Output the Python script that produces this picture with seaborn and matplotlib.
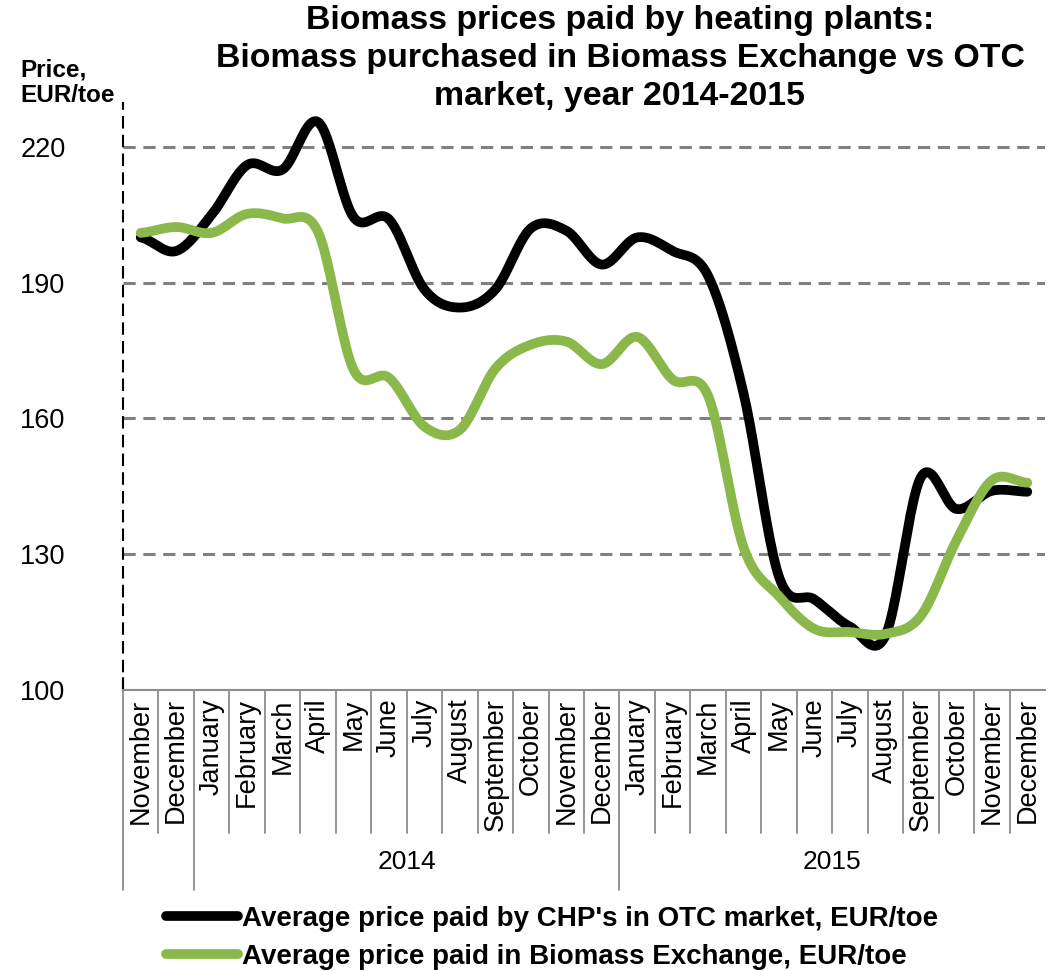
import numpy as np
import pandas as pd
import matplotlib
matplotlib.use("Agg")
import matplotlib.pyplot as plt
import seaborn as sns

# data
months = ["November", "December",
          "January", "February", "March", "April", "May", "June", "July",
          "August", "September", "October", "November", "December",
          "January", "February", "March", "April", "May", "June", "July",
          "August", "September", "October", "November", "December"]
years = ["", "2014", "2015"]
year_spans = [(0, 2), (2, 14), (14, 26)]

otc_price = [200, 197, 205, 216, 215, 225.5, 204.5, 204, 188.5, 184.5, 188.5, 202, 201.5, 194,
             200, 197, 191.5, 165.5, 125, 120, 114, 112, 147, 140, 144, 143.8]
exchange_price = [201, 202.3, 201, 205.2, 204.2, 201.2, 170.8, 169, 158.2, 157.5, 171, 176.3, 177, 172,
                  178, 168.6, 165, 131.5, 120.7, 113.5, 112.8, 112.4, 116.4, 133, 146.3, 145.8]

otc_label = "Average price paid by CHP's in OTC market, EUR/toe"
exchange_label = "Average price paid in Biomass Exchange, EUR/toe"

black = "#000000"
green = "#8BB84B"


# Excel style smoothing (catmull-rom) just for drawing the curve
def smooth(ys, n=24):
    ys = np.asarray(ys, dtype=float)
    p = np.concatenate([[ys[0]], ys, [ys[-1]]])
    xs_out, ys_out = [], []
    for i in range(len(ys) - 1):
        p0, p1, p2, p3 = p[i], p[i + 1], p[i + 2], p[i + 3]
        t = np.linspace(0, 1, n, endpoint=False)
        y = 0.5 * ((2 * p1) + (-p0 + p2) * t + (2 * p0 - 5 * p1 + 4 * p2 - p3) * t ** 2
                   + (-p0 + 3 * p1 - 3 * p2 + p3) * t ** 3)
        xs_out.append(i + t)
        ys_out.append(y)
    xs_out.append([len(ys) - 1])
    ys_out.append([ys[-1]])
    return np.concatenate(xs_out), np.concatenate(ys_out)


sns.set_theme(style="white")
plt.rcParams["font.family"] = ["Liberation Sans", "DejaVu Sans"]
plt.rcParams["text.color"] = "black"
plt.rcParams["xtick.color"] = "black"
plt.rcParams["ytick.color"] = "black"

W, H = 1053, 971
fig = plt.figure(figsize=(W / 100, H / 100), dpi=100)
ax = fig.add_axes([123 / W, 1 - 690 / H, (1045 - 123) / W, (690 - 103) / H])

x1, y1 = smooth(otc_price)
x2, y2 = smooth(exchange_price)
df = pd.DataFrame({"x": np.concatenate([x1, x2]),
                   "y": np.concatenate([y1, y2]),
                   "series": [otc_label] * len(x1) + [exchange_label] * len(x2)})
sns.lineplot(data=df, x="x", y="y", hue="series", palette=[black, green], sort=False,
             linewidth=7, ax=ax, legend=False, zorder=3)
for ln in ax.get_lines():
    ln.set_solid_capstyle("round")
    ln.set_solid_joinstyle("round")

ax.set_xlim(-0.5, len(months) - 0.5)
ax.set_ylim(100, 229.7)
ax.set_yticks([100, 130, 160, 190, 220])
ax.set_yticklabels(["100", "130", "160", "190", "220"], fontsize=19.5, ha="left")
ax.tick_params(axis="y", length=0, pad=74)
ax.set_xticks(range(len(months)))
ax.set_xticklabels(months, rotation=90, fontsize=19.5, va="top", ha="center")
ax.tick_params(axis="x", length=0, pad=6)
ax.set_xlabel("")
ax.set_ylabel("")

for v in [130, 160, 190, 220]:
    ax.axhline(v, color="#808080", lw=2.2, ls=(0, (4, 2.5)), zorder=1)

for s in ["top", "right"]:
    ax.spines[s].set_visible(False)
ax.spines["left"].set_color(black)
ax.spines["left"].set_linewidth(1.5)
ax.spines["left"].set_linestyle((0, (5, 4)))
ax.spines["bottom"].set_color("#8c8c8c")
ax.spines["bottom"].set_linewidth(1.5)

# category separators
tr = ax.get_xaxis_transform()
y_lvl1 = -(833 - 690) / (690 - 103)
y_lvl2 = -(890 - 690) / (690 - 103)
year_edges = [a for a, b in year_spans]
for k in range(len(months)):
    xb = k - 0.5
    ybot = y_lvl2 if k in year_edges else y_lvl1
    ax.plot([xb, xb], [0, ybot], transform=tr, color="#8c8c8c", lw=1.3, clip_on=False)
ax.plot([-0.5, -0.5], [0, 0.02], transform=tr, color=black, lw=1.5, clip_on=False)
for name, (a, b) in zip(years, year_spans):
    if name:
        ax.text((a + b - 1) / 2, -(862 - 690) / (690 - 103), name, transform=tr,
                ha="center", va="center", fontsize=19)

fig.text(620 / W, 1 - 5 / H,
         "Biomass prices paid by heating plants:\nBiomass purchased in Biomass Exchange vs OTC\nmarket, year 2014-2015",
         ha="center", va="top", fontsize=24.4, fontweight="bold", linespacing=1.3)
fig.text(20 / W, 1 - 59 / H, "Price,\nEUR/toe", ha="left", va="top", fontsize=17.5,
         fontweight="bold", linespacing=1.12)

handles = [plt.Line2D([], [], color=black, lw=7, solid_capstyle="round"),
           plt.Line2D([], [], color=green, lw=7, solid_capstyle="round")]
fig.legend(handles, [otc_label, exchange_label], loc="upper left",
           bbox_to_anchor=(166 / W, 1 - 906 / H), frameon=False,
           prop={"size": 20, "weight": "bold"}, handlelength=2.6, handletextpad=0.15,
           labelspacing=0.42, borderpad=0, borderaxespad=0)

fig.savefig("out.png", dpi=100)
